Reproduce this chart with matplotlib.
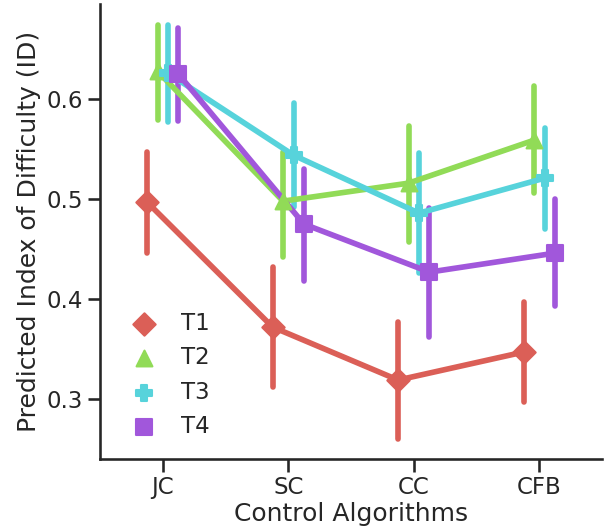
import matplotlib
matplotlib.use("Agg")
import matplotlib.pyplot as plt
import numpy as np

algorithms = ["JC", "SC", "CC", "CFB"]
tasks = ["T1", "T2", "T3", "T4"]

# estimated mean and 95% CI (low, high)
t1_mean = [0.497, 0.372, 0.319, 0.347]
t1_low = [0.446, 0.312, 0.260, 0.297]
t1_high = [0.547, 0.432, 0.377, 0.397]

t2_mean = [0.628, 0.498, 0.516, 0.559]
t2_low = [0.579, 0.442, 0.457, 0.506]
t2_high = [0.674, 0.547, 0.573, 0.613]

t3_mean = [0.626, 0.544, 0.486, 0.521]
t3_low = [0.577, 0.492, 0.426, 0.470]
t3_high = [0.674, 0.596, 0.546, 0.571]

t4_mean = [0.625, 0.475, 0.427, 0.446]
t4_low = [0.578, 0.418, 0.362, 0.393]
t4_high = [0.671, 0.530, 0.491, 0.500]

means = [t1_mean, t2_mean, t3_mean, t4_mean]
lows = [t1_low, t2_low, t3_low, t4_low]
highs = [t1_high, t2_high, t3_high, t4_high]

colors = ["#db5f57", "#91db57", "#57d3db", "#a157db"]
markers = ["D", "^", "P", "s"]

plt.rcParams["font.family"] = "DejaVu Sans"
fig = plt.figure(figsize=(6.1, 5.31), dpi=100)
ax = fig.add_axes([0.164, 0.1356, 0.823, 0.8564])

x = np.arange(len(algorithms))
offsets = np.linspace(-0.125, 0.125, len(tasks))
lw = 4.05

for i in range(len(tasks)):
    xs = x + offsets[i]
    vl = ax.vlines(xs, lows[i], highs[i], color=colors[i], linewidth=lw, zorder=2 + i)
    vl.set_capstyle("round")
for i in range(len(tasks)):
    xs = x + offsets[i]
    ax.plot(xs, means[i], color=colors[i], linewidth=lw, zorder=10 + i,
            solid_capstyle="round", solid_joinstyle="round")
    ax.scatter(xs, means[i], marker=markers[i], s=130, color=colors[i],
               edgecolor=colors[i], linewidth=1.5, zorder=20 + i, label=tasks[i])

ax.set_xlim(-0.5, 3.5)
ax.set_ylim(0.24, 0.695)
ax.set_xticks(x)
ax.set_xticklabels(algorithms)
ax.set_yticks([0.3, 0.4, 0.5, 0.6])
ax.set_yticklabels(["0.3", "0.4", "0.5", "0.6"])
ax.tick_params(labelsize=16.5, length=9, width=1.875, colors="#262626")
ax.set_xlabel("Control Algorithms", fontsize=18, color="#262626", labelpad=2)
ax.set_ylabel("Predicted Index of Difficulty (ID)", fontsize=18, color="#262626")
for side in ["top", "right"]:
    ax.spines[side].set_visible(False)
for side in ["left", "bottom"]:
    ax.spines[side].set_linewidth(1.875)
    ax.spines[side].set_color("#262626")

leg = ax.legend(loc="lower left", frameon=False, fontsize=16.5, scatterpoints=1,
                handletextpad=0.65)
for t in leg.get_texts():
    t.set_color("#262626")

fig.savefig("out.png", dpi=100)
